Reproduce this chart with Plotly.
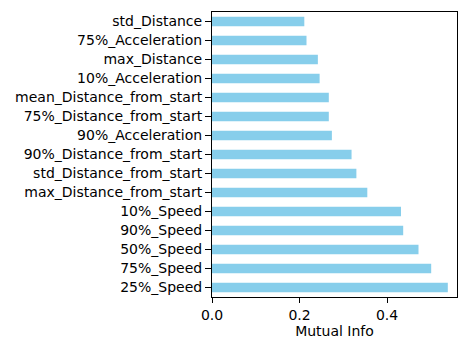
import plotly.graph_objects as go

# Features ordered bottom to top, with their mutual information scores
features = [
    "25%_Speed", "75%_Speed", "50%_Speed", "90%_Speed", "10%_Speed",
    "max_Distance_from_start", "std_Distance_from_start", "90%_Distance_from_start",
    "90%_Acceleration", "75%_Distance_from_start", "mean_Distance_from_start",
    "10%_Acceleration", "max_Distance", "75%_Acceleration", "std_Distance",
]
mutual_info = [
    0.539, 0.501, 0.472, 0.437, 0.432,
    0.355, 0.330, 0.319,
    0.274, 0.267, 0.267,
    0.246, 0.242, 0.216, 0.211,
]

fig = go.Figure(
    go.Bar(
        x=mutual_info,
        y=features,
        orientation="h",
        width=0.5,
        marker=dict(color="#87CEEB", line=dict(width=0)),
    )
)

font = dict(family="DejaVu Sans", size=14, color="black")

fig.update_layout(
    width=458,
    height=339,
    margin=dict(l=212, r=1, t=12, b=42),
    paper_bgcolor="white",
    plot_bgcolor="white",
    showlegend=False,
    font=font,
    xaxis=dict(
        range=[0, 0.56],
        tickvals=[0.0, 0.2, 0.4],
        ticktext=["0.0", "0.2", "0.4"],
        ticks="outside",
        ticklen=5,
        tickcolor="black",
        showline=True,
        linecolor="black",
        linewidth=1,
        mirror=True,
        showgrid=False,
        zeroline=False,
        title=dict(text="Mutual Info", standoff=4, font=font),
        tickfont=font,
    ),
    yaxis=dict(
        range=[-0.5, 14.5],
        ticks="outside",
        ticklen=6,
        tickcolor="black",
        showline=True,
        linecolor="black",
        linewidth=1,
        mirror=True,
        showgrid=False,
        zeroline=False,
        tickfont=font,
    ),
)

fig.write_html("out.html")
